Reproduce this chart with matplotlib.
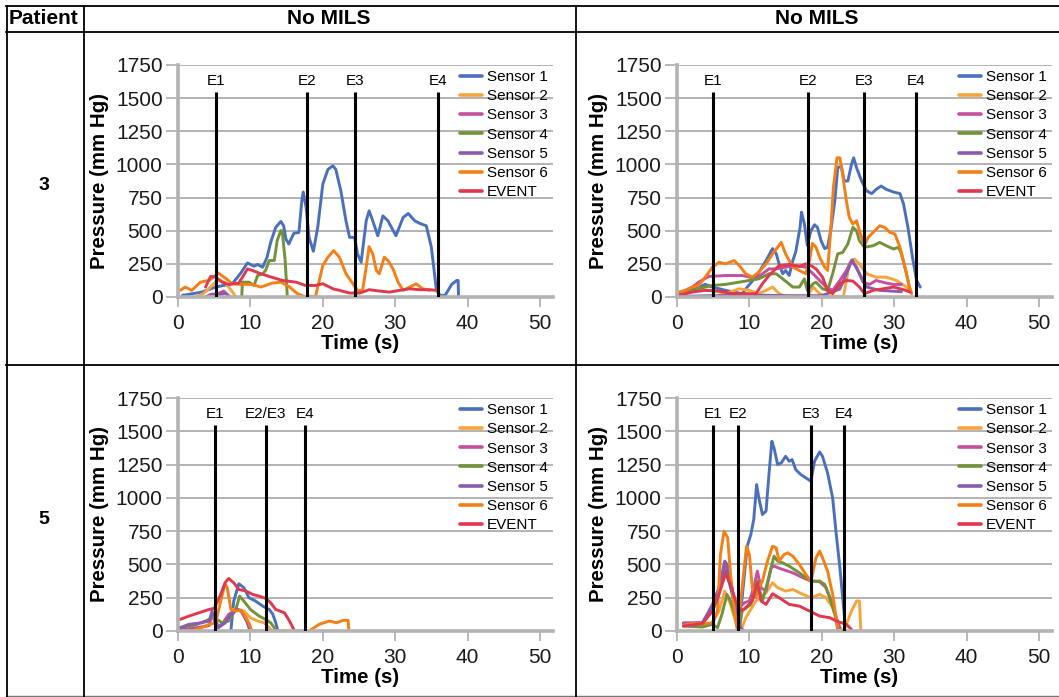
import matplotlib.pyplot as plt

plt.rcParams['font.family'] = ['Liberation Sans', 'DejaVu Sans']

SENSORS = ["Sensor 1", "Sensor 2", "Sensor 3", "Sensor 4", "Sensor 5", "Sensor 6", "EVENT"]
COLORS = ["#4a6fbd", "#f8a43c", "#c64f9e", "#72923b", "#8a5cae", "#f57f14", "#e0384f"]

PATIENTS = ["3", "5"]
HEADERS = ["No MILS", "No MILS"]
X_TICKS = [0, 10, 20, 30, 40, 50]
Y_TICKS = [0, 250, 500, 750, 1000, 1250, 1500, 1750]

# patient 3, left panel  (time s, pressure mm Hg)
p3a_s1 = [(0.6, 12), (3.3, 37), (5.2, 75), (7.5, 100), (8.6, 175), (9.6, 257), (10.5, 232), (11.0, 245),
          (11.7, 225), (12.3, 300), (12.8, 412), (13.5, 525), (14.2, 570), (14.6, 537), (14.9, 437),
          (15.3, 400), (16.0, 480), (16.7, 487), (17.1, 725), (17.3, 792), (17.7, 675), (18.1, 450),
          (18.7, 345), (19.3, 525), (20.0, 850), (20.7, 962), (21.4, 990), (21.8, 962), (22.5, 800),
          (23.2, 575), (23.7, 450), (24.4, 450), (24.8, 325), (25.3, 262), (26.0, 575), (26.4, 650),
          (26.9, 575), (27.6, 462), (28.3, 612), (29.0, 575), (30.1, 462), (31.1, 600), (31.8, 630),
          (32.7, 575), (33.4, 555), (34.3, 537), (35.0, 375), (35.7, 50), (36.2, 12), (36.9, 12),
          (37.8, 95), (38.5, 125), (38.7, 125), (38.75, 0)]
p3a_s2 = [(2.5, 0), (3.5, 25), (4.5, 75), (5.5, 130), (6.5, 110), (7.5, 40), (8.0, 0)]
p3a_s3 = [(3.8, 0), (4.5, 20), (5.5, 25), (6.3, 45), (6.8, 20), (7.2, 0)]
p3a_s4 = [(8.8, 0), (8.9, 112), (9.8, 112), (10.5, 87), (11.0, 162), (11.7, 175), (12.1, 200), (12.6, 275),
          (13.3, 275), (13.7, 425), (14.2, 500), (14.4, 500), (14.8, 275), (15.1, 0)]
p3a_s5 = [(4.0, 0), (5.0, 15), (6.0, 20), (6.5, 30), (7.0, 0)]
p3a_s6 = [(0.3, 50), (1.0, 75), (1.9, 50), (3.1, 112), (4.3, 125), (5.6, 180), (6.6, 140), (7.5, 100),
          (8.6, 95), (10.3, 95), (11.4, 75), (12.1, 87), (13.0, 105), (14.2, 112), (15.3, 80), (16.5, 25),
          (17.4, 5), (19.0, 5), (20.0, 237), (20.7, 300), (21.5, 350), (22.3, 300), (23.2, 175),
          (24.1, 105), (24.8, 50), (25.5, 50), (26.0, 225), (26.4, 380), (26.9, 325), (27.4, 200),
          (27.8, 175), (28.5, 300), (29.0, 275), (29.7, 212), (30.4, 112), (31.1, 50), (32.0, 75),
          (32.9, 100), (33.8, 62), (34.8, 50)]
p3a_ev = [(3.8, 75), (4.5, 155), (5.2, 150), (6.1, 112), (7.0, 95), (8.4, 105), (9.6, 212), (10.3, 200),
          (11.2, 180), (12.6, 155), (14.4, 125), (16.3, 112), (17.6, 87), (19.0, 87), (20.0, 100),
          (21.4, 62), (22.3, 50), (23.7, 30), (25.1, 30), (26.4, 55), (27.8, 45), (29.2, 37), (30.6, 50),
          (32.0, 62), (33.4, 55), (34.8, 55), (35.7, 50)]
p3a_events = [5.2, 17.8, 24.5, 35.9]
p3a_event_labels = ["E1", "E2", "E3", "E4"]

# patient 3, right panel
p3b_s1 = [(0.2, 12), (1.6, 50), (2.5, 62), (3.9, 95), (4.9, 75), (6.7, 50), (9.0, 25), (9.7, 75),
          (10.9, 150), (12.3, 275), (13.2, 365), (13.7, 327), (14.1, 250), (14.6, 175), (15.0, 200),
          (15.5, 162), (16.0, 275), (16.4, 340), (17.0, 525), (17.2, 640), (17.6, 550), (18.0, 390),
          (18.5, 500), (19.0, 545), (19.4, 525), (19.9, 425), (20.4, 365), (20.8, 375), (21.3, 525),
          (21.8, 725), (22.2, 975), (22.7, 987), (23.1, 875), (23.6, 875), (24.1, 1000), (24.4, 1050),
          (24.8, 975), (25.5, 875), (26.2, 800), (26.9, 780), (27.5, 812), (28.2, 837), (28.9, 812),
          (29.9, 792), (30.8, 780), (31.3, 700), (31.9, 525), (32.6, 275), (33.1, 125), (33.6, 75)]
p3b_s2 = [(0.2, 25), (3.0, 50), (4.9, 50), (6.7, 25), (8.6, 62), (10.0, 50), (11.3, 25), (12.3, 50),
          (13.2, 75), (14.1, 25), (15.0, 5), (18.0, 5), (18.8, 75), (19.7, 25), (20.5, 5), (23.0, 5),
          (23.8, 250), (24.5, 287), (25.2, 250), (26.2, 175), (27.5, 150), (28.9, 150), (30.3, 125),
          (31.7, 75), (32.4, 37)]
p3b_s3 = [(0.2, 25), (2.1, 75), (3.0, 112), (4.4, 155), (6.7, 162), (9.0, 162), (10.0, 150), (10.9, 137),
          (11.8, 175), (12.7, 212), (13.7, 212), (15.0, 225), (16.4, 237), (17.8, 225), (18.8, 175),
          (19.7, 125), (20.6, 75), (21.5, 50), (22.5, 125), (23.4, 200), (24.1, 275), (24.8, 225),
          (25.7, 112), (26.6, 95), (27.5, 125), (28.9, 105), (29.9, 95), (31.0, 95)]
p3b_s4 = [(0.2, 12), (2.1, 50), (3.9, 75), (4.9, 87), (6.7, 95), (8.6, 112), (10.0, 125), (11.3, 137),
          (12.7, 175), (13.7, 175), (14.6, 137), (16.0, 75), (16.9, 75), (17.6, 137), (18.0, 50),
          (18.8, 100), (19.2, 112), (20.1, 62), (20.8, 50), (21.5, 175), (22.2, 325), (22.9, 337),
          (23.6, 400), (24.3, 525), (24.8, 500), (25.2, 425), (25.9, 375), (27.1, 387), (28.0, 412),
          (28.9, 387), (29.9, 362), (30.6, 375), (31.0, 325), (31.7, 175), (32.2, 50)]
p3b_s5 = [(0.2, 5), (5.0, 10), (10.0, 15), (15.0, 10), (20.0, 10), (22.5, 60), (23.4, 175), (24.2, 280),
          (25.2, 175), (26.2, 75), (28.0, 50), (31.0, 40)]
p3b_s6 = [(0.2, 37), (1.2, 50), (2.1, 75), (3.0, 87), (3.9, 150), (4.9, 225), (5.8, 262), (6.7, 250),
          (7.9, 275), (8.6, 237), (9.5, 175), (10.4, 150), (11.3, 187), (12.3, 250), (13.2, 325),
          (14.4, 412), (15.0, 325), (16.0, 225), (16.9, 200), (17.8, 175), (18.3, 275), (18.7, 405),
          (19.2, 375), (19.7, 300), (20.4, 225), (20.8, 200), (21.2, 475), (21.6, 825), (22.1, 1050),
          (22.5, 1050), (22.8, 950), (23.4, 725), (23.8, 600), (24.3, 550), (24.8, 575), (25.2, 500),
          (25.9, 387), (26.4, 450), (27.1, 487), (28.0, 537), (28.7, 525), (29.4, 487), (30.1, 475),
          (30.8, 375), (31.5, 225), (32.0, 100), (32.4, 25)]
p3b_ev = [(0.2, 12), (2.1, 37), (3.9, 50), (5.8, 45), (7.6, 25), (9.5, 25), (10.9, 25), (11.8, 100),
          (12.7, 162), (14.1, 237), (15.5, 245), (16.9, 230), (17.8, 250), (18.5, 237), (19.2, 212),
          (20.1, 150), (20.8, 50), (21.5, 25), (22.5, 100), (23.4, 125), (24.3, 120), (25.2, 75),
          (25.9, 25), (27.1, 50), (28.5, 62), (29.9, 75), (31.3, 55), (32.2, 37)]
p3b_events = [5.0, 18.1, 25.8, 33.0]
p3b_event_labels = ["E1", "E2", "E3", "E4"]

# patient 5, left panel
p5a_s1 = [(7.3, 0), (7.7, 225), (8.4, 355), (9.1, 325), (9.8, 250), (10.7, 225), (11.7, 187), (12.6, 162),
          (13.1, 125), (13.5, 62), (13.8, 0)]
p5a_s2 = [(7.5, 162), (8.4, 162), (9.1, 150), (10.0, 100), (11.0, 75), (11.9, 62), (12.6, 25), (13.0, 0)]
p5a_s3 = [(0.3, 12), (2.0, 20), (4.3, 40), (4.7, 125), (5.4, 25), (6.2, 60), (7.0, 125), (8.0, 162),
          (8.7, 150), (9.4, 100), (9.8, 25), (10.0, 0)]
p5a_s4 = [(0.3, 25), (2.4, 45), (4.3, 87), (5.0, 125), (5.4, 87), (6.1, 62), (7.0, 75), (8.0, 162),
          (8.5, 262), (9.1, 225), (10.0, 162), (11.2, 112), (12.1, 87), (12.8, 62), (13.3, 25), (13.5, 0)]
p5a_s5 = [(0.3, 25), (1.5, 50), (3.3, 62), (4.3, 75), (4.7, 150), (5.2, 87), (5.6, 25), (6.5, 60),
          (7.3, 125), (8.2, 162), (8.7, 150), (9.6, 62), (10.0, 0)]
p5a_s6 = [(2.0, 0), (3.3, 25), (4.3, 50), (5.2, 60), (5.9, 225), (6.5, 355), (6.8, 325), (7.3, 162),
          (8.0, 150), (8.7, 155), (9.1, 125), (9.8, 62), (10.2, 0), (18.1, 0), (19.5, 50), (20.9, 75),
          (21.9, 62), (22.8, 80), (23.5, 80), (23.6, 0)]
p5a_ev = [(0.3, 87), (1.5, 112), (2.9, 137), (4.3, 162), (5.0, 170), (5.9, 275), (6.5, 362), (7.0, 395),
          (7.7, 362), (8.4, 312), (9.4, 300), (10.3, 275), (11.2, 262), (12.1, 245), (12.8, 212),
          (13.5, 162), (14.7, 137), (15.4, 75), (16.1, 0)]
p5a_events = [5.1, 12.1, 17.5]
p5a_event_labels = ["E1", "E2/E3", "E4"]

# patient 5, right panel
p5b_s1 = [(0.9, 50), (3.5, 62), (4.9, 150), (5.8, 325), (6.7, 462), (7.4, 325), (8.1, 175), (8.6, 100),
          (9.0, 250), (9.7, 637), (10.2, 725), (10.6, 837), (11.0, 1100), (11.3, 1000), (11.8, 875),
          (12.3, 900), (12.7, 1175), (13.1, 1425), (13.4, 1375), (13.9, 1250), (14.4, 1262), (15.0, 1312),
          (15.5, 1275), (15.9, 1287), (16.4, 1212), (17.1, 1175), (17.8, 1150), (18.5, 1125), (19.0, 1275),
          (19.7, 1345), (20.1, 1312), (20.8, 1187), (21.5, 1000), (22.0, 725), (22.5, 475), (23.1, 125)]
p5b_s2 = [(0.9, 40), (3.9, 50), (4.9, 60), (5.8, 150), (6.6, 300), (7.4, 200), (8.2, 50), (8.8, 0),
          (9.5, 100), (10.9, 225), (12.3, 287), (13.2, 362), (13.9, 325), (15.0, 300), (16.0, 312),
          (17.4, 275), (18.5, 250), (19.7, 275), (20.6, 250), (21.5, 175), (22.5, 25), (23.0, 0),
          (23.4, 50), (24.1, 150), (24.8, 225), (25.2, 225), (25.4, 0)]
p5b_s3 = [(0.9, 62), (3.5, 62), (4.9, 175), (5.8, 300), (6.5, 462), (6.9, 500), (7.4, 375), (7.9, 225),
          (8.6, 175), (9.3, 212), (10.0, 225), (10.6, 325), (11.1, 450), (11.6, 325), (12.3, 300),
          (13.0, 475), (13.4, 487), (14.6, 462), (16.0, 437), (17.4, 400), (18.5, 375), (19.7, 370),
          (20.6, 325), (21.3, 225), (22.0, 100), (22.5, 25)]
p5b_s4 = [(0.9, 37), (3.5, 30), (4.9, 50), (5.6, 25), (6.2, 125), (6.9, 275), (7.4, 225), (8.1, 100),
          (8.6, 12), (9.0, 150), (10.2, 200), (11.1, 375), (11.8, 225), (12.3, 325), (13.0, 475),
          (13.4, 562), (13.9, 525), (14.6, 512), (15.5, 487), (16.9, 437), (17.8, 400), (18.8, 375),
          (19.7, 375), (20.4, 350), (21.1, 250), (21.8, 125), (22.2, 12)]
p5b_s5 = [(0.9, 55), (3.5, 60), (4.9, 200), (5.8, 325), (6.6, 525), (6.9, 500), (7.4, 375), (8.1, 175),
          (8.8, 25), (9.2, 0)]
p5b_s6 = [(0.9, 45), (2.1, 55), (3.9, 55), (4.9, 62), (5.6, 150), (6.0, 575), (6.5, 750), (7.0, 700),
          (7.4, 425), (7.9, 175), (8.3, 12), (8.8, 225), (9.6, 637), (10.0, 575), (10.4, 325), (10.9, 250),
          (11.3, 325), (11.8, 375), (12.5, 525), (13.2, 637), (13.7, 625), (14.1, 525), (14.8, 575),
          (15.3, 587), (16.0, 562), (16.9, 500), (17.8, 425), (18.5, 375), (19.2, 550), (19.7, 600),
          (20.1, 550), (20.8, 450), (21.5, 275), (22.2, 25)]
p5b_ev = [(0.9, 37), (3.5, 55), (4.9, 150), (5.8, 275), (6.7, 430), (7.4, 350), (8.1, 225), (8.8, 150),
          (9.5, 175), (10.4, 225), (11.1, 362), (11.6, 225), (12.3, 200), (13.2, 280), (14.1, 250),
          (15.5, 200), (16.9, 187), (18.3, 150), (19.7, 112), (21.1, 100), (22.0, 75), (23.4, 50), (24.1, 12)]
p5b_events = [5.0, 8.4, 18.5, 23.1]
p5b_event_labels = ["E1", "E2", "E3", "E4"]

panels = [
    ([p3a_s1, p3a_s2, p3a_s3, p3a_s4, p3a_s5, p3a_s6, p3a_ev], p3a_events, p3a_event_labels),
    ([p3b_s1, p3b_s2, p3b_s3, p3b_s4, p3b_s5, p3b_s6, p3b_ev], p3b_events, p3b_event_labels),
    ([p5a_s1, p5a_s2, p5a_s3, p5a_s4, p5a_s5, p5a_s6, p5a_ev], p5a_events, p5a_event_labels),
    ([p5b_s1, p5b_s2, p5b_s3, p5b_s4, p5b_s5, p5b_s6, p5b_ev], p5b_events, p5b_event_labels),
]

W, H = 1059, 697
fig = plt.figure(figsize=(W / 100, H / 100), dpi=100)

# table frame, in pixel coordinates
bg = fig.add_axes([0, 0, 1, 1])
bg.set_xlim(0, W)
bg.set_ylim(H, 0)
bg.axis("off")
for y in [5.5, 31.5, 364.5]:
    bg.plot([6, W], [y, y], color="black", lw=1.3)
bg.plot([6, W], [695.5, 695.5], color="#777777", lw=1.0)
for x in [6.5, 83.5, 575.5]:
    bg.plot([x, x], [5.5, 697], color="black", lw=1.3)
bg.text(44, 18.5, "Patient", ha="center", va="center", fontsize=15, weight="bold")
bg.text(329, 18.5, HEADERS[0], ha="center", va="center", fontsize=15, weight="bold")
bg.text(817, 18.5, HEADERS[1], ha="center", va="center", fontsize=15, weight="bold")
bg.text(44, 186, PATIENTS[0], ha="center", va="center", fontsize=14, weight="bold")
bg.text(44, 519, PATIENTS[1], ha="center", va="center", fontsize=14, weight="bold")

lefts = [178, 677]
rows = [(65, 297), (398, 631)]
GRAY = "#b3b3b3"

for i, (series, events, elabels) in enumerate(panels):
    top, bottom = rows[i // 2]
    left = lefts[i % 2]
    ax = fig.add_axes([left / W, 1 - bottom / H, 375 / W, (bottom - top) / H])
    for pts, name, col in zip(series, SENSORS, COLORS):
        ax.plot([p[0] for p in pts], [p[1] for p in pts], color=col, lw=2.1, label=name,
                solid_joinstyle="round", solid_capstyle="round")
    ax.vlines(events, 0, 1545, color="black", lw=2.2, zorder=5)
    for e, lab in zip(events, elabels):
        ax.text(e, 1628, lab, ha="center", va="center", fontsize=11)

    ax.set_xlim(0, 51.8)
    ax.set_ylim(0, 1750)
    ax.set_xticks(X_TICKS)
    ax.set_yticks(Y_TICKS)
    ax.yaxis.grid(True, color=GRAY, lw=1.4)
    ax.set_axisbelow(True)
    for s in ["top", "right"]:
        ax.spines[s].set_visible(False)
    for s in ["left", "bottom"]:
        ax.spines[s].set_color(GRAY)
        ax.spines[s].set_linewidth(2.6)
    ax.tick_params(axis="x", colors=GRAY, labelcolor="#1a1a1a", length=7, width=1.3, pad=5, labelsize=15)
    ax.tick_params(axis="y", colors=GRAY, labelcolor="#1a1a1a", length=9, width=1.3, pad=2, labelsize=15)

    ax.set_xlabel("Time (s)", fontsize=14.8, weight="bold")
    ax.xaxis.set_label_coords(0.485, -0.16)
    ax.set_ylabel("Pressure (mm Hg)", fontsize=14.8, weight="bold")
    ax.yaxis.set_label_coords(-0.185, 0.5)

    leg = ax.legend(loc="upper left", bbox_to_anchor=(0.752, 0.978), frameon=False, fontsize=11,
                    handlelength=1.45, handletextpad=0.3, labelspacing=0.34, borderpad=0, borderaxespad=0)
    for h in leg.get_lines():
        h.set_linewidth(2.6)

fig.savefig("out.png", dpi=100)
